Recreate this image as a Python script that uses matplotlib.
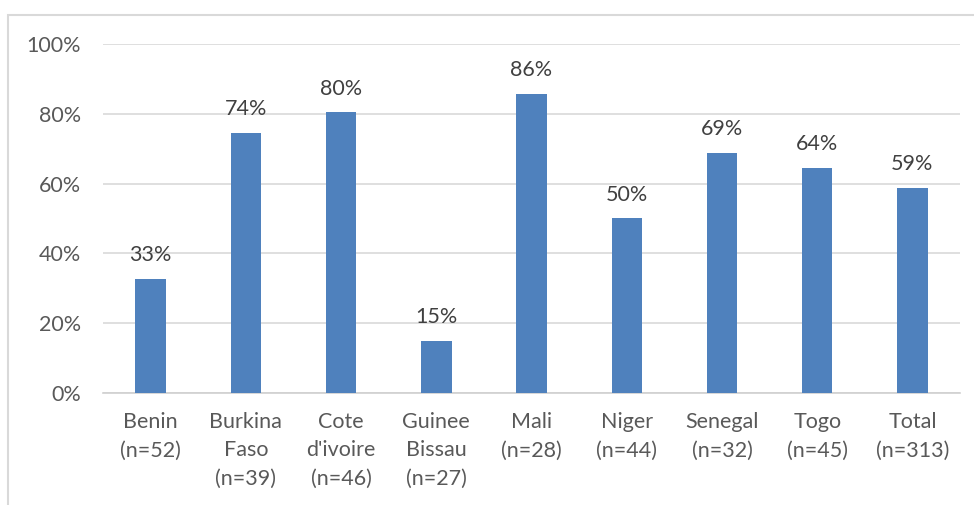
import matplotlib.pyplot as plt
from matplotlib.patches import Rectangle
from matplotlib.ticker import PercentFormatter

countries = ['Benin', 'Burkina\nFaso', 'Cote\nd\'ivoire', 'Guinee\nBissau', 'Mali',
             'Niger', 'Senegal', 'Togo', 'Total']
sample_sizes = [52, 39, 46, 27, 28, 44, 32, 45, 313]
shares = [32.7, 74.4, 80.4, 14.8, 85.7, 50.0, 68.8, 64.4, 58.8]

plt.rcParams['font.family'] = ['Lato', 'DejaVu Sans']
text_color = '#595959'
bar_color = '#4F81BD'

fig = plt.figure(figsize=(9.74, 5.05), dpi=100)
ax = fig.add_axes([0.1057, 0.2218, 0.88, 0.6911])

# outer chart frame
fig.patches.append(Rectangle((8 / 974, -0.05), 1.2, 0.05 + 1 - 15 / 505,
                             transform=fig.transFigure, fill=False,
                             edgecolor='#D9D9D9', linewidth=1.5))

x = range(len(countries))
bars = ax.bar(x, shares, width=0.32, color=bar_color, zorder=3)
for b, v in zip(bars, shares):
    ax.annotate(f'{v:.0f}%', (b.get_x() + b.get_width() / 2, v),
                xytext=(0, 10), textcoords='offset points',
                ha='center', va='bottom', fontsize=15.5, color='#404040')

labels = [f'{c}\n(n={n})' for c, n in zip(countries, sample_sizes)]
ax.set_xticks(list(x))
ax.set_xticklabels(labels, fontsize=15.5, color=text_color, linespacing=1.5)
ax.set_xlim(-0.5, len(countries) - 0.5)
ax.set_ylim(0, 100)
ax.set_yticks(range(0, 101, 20))
ax.yaxis.set_major_formatter(PercentFormatter(decimals=0))
ax.tick_params(axis='y', labelsize=15.5, labelcolor=text_color, length=0, pad=16)
ax.tick_params(axis='x', length=0, pad=14)
ax.grid(axis='y', color='#D9D9D9', linewidth=1.2, zorder=0)
for side in ['top', 'right', 'left']:
    ax.spines[side].set_visible(False)
ax.spines['bottom'].set_color('#D0D0D0')
ax.spines['bottom'].set_linewidth(1.2)

plt.savefig('out.png', dpi=100)
